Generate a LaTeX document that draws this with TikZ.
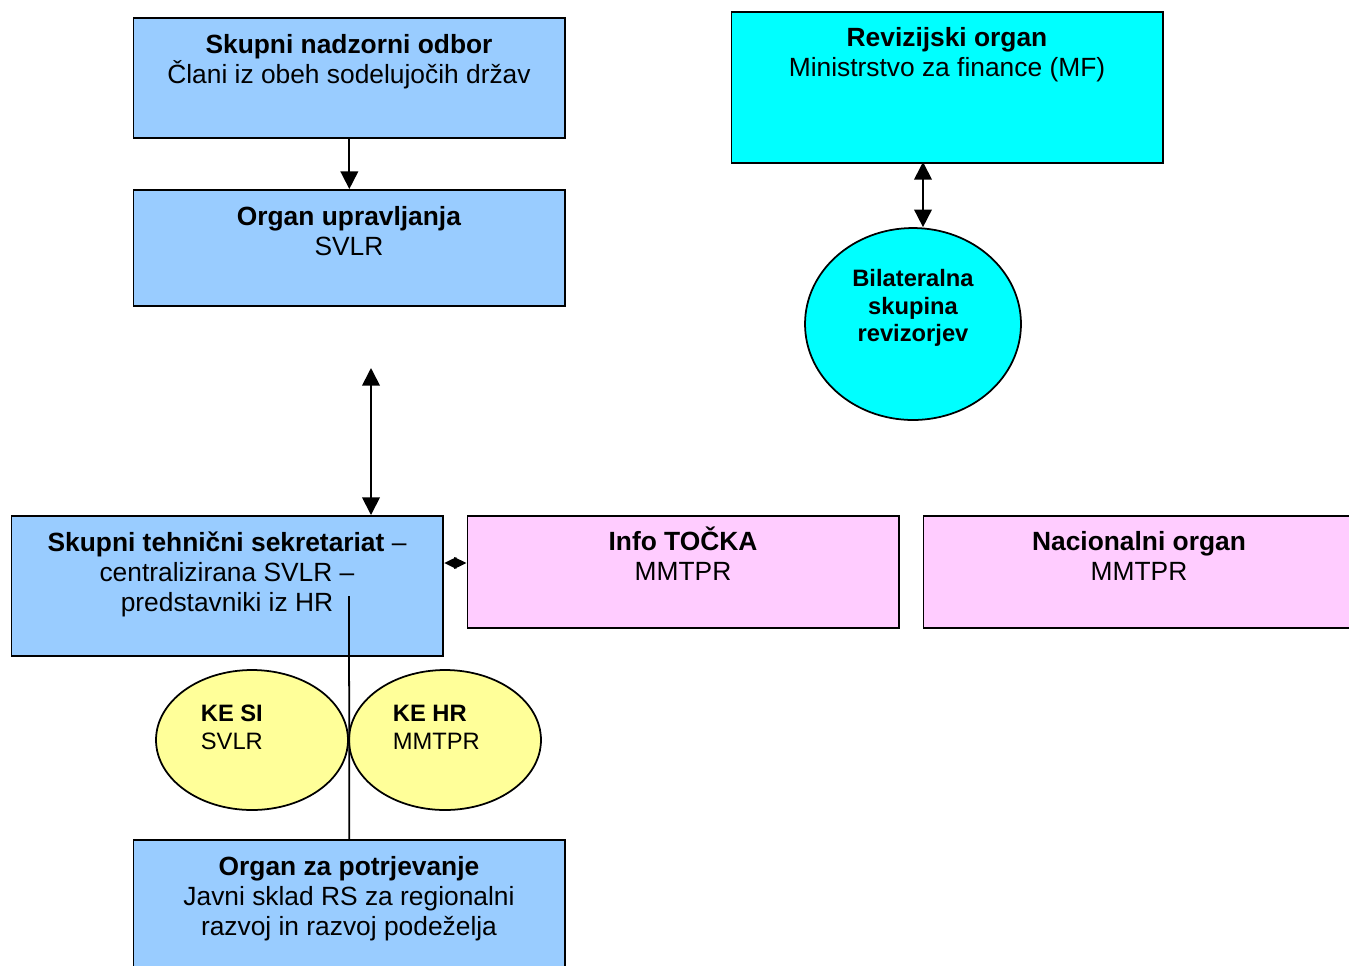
\documentclass[tikz,border=0pt]{standalone}
\usepackage{fontspec}
\setmainfont{Liberation Sans}
\usetikzlibrary{shapes.geometric,arrows.meta}

\definecolor{boxblue}{HTML}{99CCFF}
\definecolor{boxcyan}{HTML}{00FFFF}
\definecolor{boxpink}{HTML}{FFCCFF}
\definecolor{boxyellow}{HTML}{FFFF99}

\begin{document}
\begin{tikzpicture}[x=0.02cm, y=-0.02cm, line width=1pt,
    box/.style={draw, anchor=north west, inner sep=0, minimum width=8.64cm},
    oval/.style={draw, ellipse, inner sep=0},
    txt/.style={align=center, anchor=north, inner sep=0,
      font=\fontsize{15}{17.07}\selectfont},
    ovaltxt/.style={align=center, anchor=north, inner sep=0,
      font=\bfseries\fontsize{13.5}{15.9}\selectfont},
    ketxt/.style={align=left, anchor=north west, inner sep=0,
      font=\fontsize{13.5}{15.9}\selectfont},
    arr/.style={-{Triangle[width=10pt,length=10pt]}},
    dbl/.style={{Triangle[width=10pt,length=10pt]}-{Triangle[width=10pt,length=10pt]}},
    dblshort/.style={{Triangle[width=6.5pt,length=7pt]}-{Triangle[width=6.5pt,length=7pt]}}]
  \useasboundingbox (0,0) rectangle (1349,965);
  \clip (0,0) rectangle (1349,965);

  % boxes
  \node[box, fill=boxblue, minimum height=2.4cm] (sno) at (132.5,17) {};
  \node[box, fill=boxblue, minimum height=2.32cm] (ou) at (132.5,189) {};
  \node[box, fill=boxcyan, minimum height=3.02cm] (ro) at (730.5,11) {};
  \node[oval, fill=boxcyan, minimum width=4.32cm, minimum height=3.84cm] (bsr) at (913,324) {};
  \node[box, fill=boxblue, minimum height=2.8cm] (sts) at (10.5,515) {};
  \node[box, fill=boxpink, minimum height=2.24cm] (it) at (466.5,515) {};
  \node[box, fill=boxpink, minimum height=2.24cm] (no) at (922.5,515) {};
  \node[oval, fill=boxyellow, minimum width=3.84cm, minimum height=2.8cm] (kesi) at (252,740) {};
  \node[oval, fill=boxyellow, minimum width=3.84cm, minimum height=2.8cm] (kehr) at (445,740) {};
  \node[box, fill=boxblue, minimum height=3.4cm] (pot) at (132.5,839) {};

  % texts
  \node[txt] (sno-t) at (349,34) {\textbf{Skupni nadzorni odbor}\\Člani iz obeh sodelujočih držav};
  \node[txt] (ou-t) at (349,206) {\textbf{Organ upravljanja}\\SVLR};
  \node[txt] (ro-t) at (947,27) {\textbf{Revizijski organ}\\Ministrstvo za finance (MF)};
  \node[ovaltxt] (bsr-t) at (913,268) {Bilateralna\\skupina\\revizorjev};
  \node[txt] (sts-t) at (227,531) {\textbf{Skupni tehnični sekretariat} –\\centralizirana SVLR –\\predstavniki iz HR};
  \node[txt] (it-t) at (683,526) {\textbf{Info TOČKA}\\MMTPR};
  \node[txt] (no-t) at (1139,531) {\textbf{Nacionalni organ}\\MMTPR};
  \node[ketxt] (kesi-t) at (200,704) {\textbf{KE SI}\\SVLR};
  \node[ketxt] (kehr-t) at (392,704) {\textbf{KE HR}\\MMTPR};
  \node[txt] (pot-t) at (349,856) {\textbf{Organ za potrjevanje}\\Javni sklad RS za regionalni\\razvoj in razvoj podeželja};

  % connectors
  \coordinate (ro-a) at (923,162);
  \coordinate (ou-a) at (371,368);
  \coordinate (sts-l) at (349,596);
  \draw[arr] (sno.south) -- (ou.north);
  \draw[dbl] (ro-a) -- (ro-a |- bsr.north);
  \draw[dbl] (ou-a) -- (ou-a |- sts.north);
  \draw[dblshort] (sts.east |- 0,563) -- (it.west |- 0,563);
  \draw (sts-l) -- (pot.north);
\end{tikzpicture}
\end{document}
